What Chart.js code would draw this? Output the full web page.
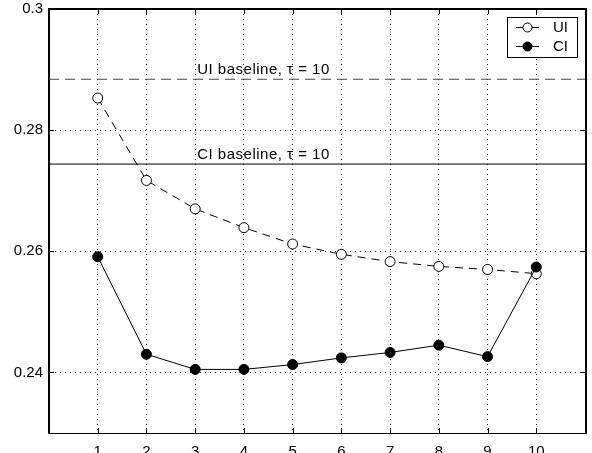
<!DOCTYPE html>
<html>
<head>
<meta charset="utf-8">
<script src="https://cdn.jsdelivr.net/npm/chart.js@4/dist/chart.umd.min.js"></script>
<style>
  html, body { margin: 0; padding: 0; background: #fff; }
  #wrap { width: 592px; height: 453px; position: relative; }
</style>
</head>
<body>
<div id="wrap"><canvas id="chart"></canvas></div>
<script>
// data
const xValues = [1, 2, 3, 4, 5, 6, 7, 8, 9, 10];
const uiValues = [0.2853, 0.2717, 0.2670, 0.2639, 0.2612, 0.2595, 0.2583, 0.2575, 0.2570, 0.2563];
const ciValues = [0.2591, 0.2430, 0.2405, 0.2405, 0.2413, 0.2424, 0.2433, 0.2445, 0.2426, 0.2574];
const uiBaseline = 0.2884;
const ciBaseline = 0.2744;
const baselineSpan = [0, 11];
const baselineLabels = ['UI baseline, τ = 10', 'CI baseline, τ = 10'];
const baselineLabelX = 3;
const xTicks = [1, 2, 3, 4, 5, 6, 7, 8, 9, 10];
const yTicks = [0.24, 0.26, 0.28, 0.3];

const FONT = '"Liberation Sans", Arial, Helvetica, sans-serif';

function pts(xs, ys) { return xs.map((x, i) => ({ x: x, y: ys[i] })); }

// box round the plot + short tick marks pointing inward
function drawFrame(chart) {
    const { ctx, chartArea: a, scales } = chart;
    const len = 5;
    const L = Math.round(a.left), R = Math.round(a.right);
    const T = Math.round(a.top), B = Math.round(a.bottom);
    ctx.save();
    ctx.globalAlpha = 1;
    ctx.globalCompositeOperation = 'source-over';
    ctx.fillStyle = 'rgb(0,0,0)';
    ctx.fillRect(L - 1, T - 1, R - L + 2, 2);
    ctx.fillRect(L - 1, B, R - L + 2, 1);
    ctx.fillRect(L - 1, T - 1, 1, B - T + 2);
    ctx.fillRect(R, T - 1, 2, B - T + 2);
    scales.x.ticks.forEach(tk => {
        const px = Math.round(scales.x.getPixelForValue(tk.value));
        ctx.fillRect(px, B - len, 1, len);
        ctx.fillRect(px, T, 1, len);
    });
    scales.y.ticks.forEach(tk => {
        const py = Math.round(scales.y.getPixelForValue(tk.value));
        ctx.fillRect(L, py, len, 1);
        ctx.fillRect(R - len + 1, py, len, 1);
    });
    ctx.restore();
}

function drawBaselineText(chart) {
    const { ctx, scales } = chart;
    ctx.save();
    ctx.fillStyle = '#000';
    ctx.font = '15px ' + FONT;
    if ('letterSpacing' in ctx) ctx.letterSpacing = '0.5px';
    ctx.textAlign = 'left';
    ctx.textBaseline = 'alphabetic';
    const x = scales.x.getPixelForValue(baselineLabelX) + 2;
    [uiBaseline, ciBaseline].forEach((v, i) => {
        ctx.fillText(baselineLabels[i], x, scales.y.getPixelForValue(v) - 5);
    });
    ctx.restore();
}

function drawLegend(chart) {
    const { ctx, chartArea: a } = chart;
    const sets = chart.data.datasets.filter(d => d.inLegend);
    const w = 70, rowH = 19, h = 40;
    const x0 = Math.round(a.right - 8 - w);
    const y0 = Math.round(a.top + 8);
    ctx.save();
    ctx.fillStyle = '#fff';
    ctx.fillRect(x0, y0, w, h);
    ctx.fillStyle = '#000';
    ctx.fillRect(x0, y0, w + 1, 1);
    ctx.fillRect(x0, y0 + h, w + 1, 1);
    ctx.fillRect(x0, y0, 1, h + 1);
    ctx.fillRect(x0 + w, y0, 1, h + 1);
    ctx.font = '15px ' + FONT;
    ctx.textBaseline = 'middle';
    ctx.strokeStyle = '#000';
    ctx.lineWidth = 1;
    sets.forEach((d, i) => {
        const cy = Math.round(y0 + 10 + i * rowH);
        ctx.fillStyle = '#000';
        ctx.fillRect(x0 + 9, cy, 23, 1);
        ctx.beginPath();
        ctx.arc(x0 + 20.5, cy + 0.5, 4.5, 0, Math.PI * 2);
        ctx.fillStyle = d.pointBackgroundColor;
        ctx.fill();
        ctx.stroke();
        ctx.fillStyle = '#000';
        ctx.fillText(d.label, x0 + 46, cy + 1);
    });
    ctx.restore();
}

const textPlugin = { id: 'baselineText', afterDatasetsDraw(chart) { drawBaselineText(chart); } };
const framePlugin = { id: 'plotFrame', afterDraw(chart) { drawFrame(chart); } };
const legendPlugin = { id: 'legendBox', afterDraw(chart) { drawLegend(chart); } };

function noPad(s) { s.paddingTop = 0; s.paddingBottom = 0; s.paddingLeft = 0; s.paddingRight = 0; }

const gridOpts = { color: '#222', lineWidth: 1, drawTicks: false };
const frameBorder = { display: true, color: '#000', width: 1, dash: [1, 4] };

new Chart(document.getElementById('chart'), {
    type: 'scatter',
    data: {
        datasets: [
            {
                label: 'UI', inLegend: true, order: 1,
                data: pts(xValues, uiValues), showLine: true,
                borderColor: '#000', borderWidth: 1, borderDash: [8, 6],
                pointRadius: 5, pointBackgroundColor: '#fff', pointBorderColor: '#000', pointBorderWidth: 1
            },
            {
                label: 'CI', inLegend: true, order: 0,
                data: pts(xValues, ciValues), showLine: true,
                borderColor: '#000', borderWidth: 1,
                pointRadius: 5, pointBackgroundColor: '#000', pointBorderColor: '#000', pointBorderWidth: 1
            },
            {
                label: 'UI baseline', order: 2,
                data: pts(baselineSpan, [uiBaseline, uiBaseline]), showLine: true,
                borderColor: '#444', borderWidth: 1.2, borderDash: [10, 6], pointRadius: 0
            },
            {
                label: 'CI baseline', order: 3,
                data: pts(baselineSpan, [ciBaseline, ciBaseline]), showLine: true,
                borderColor: '#000', borderWidth: 1, pointRadius: 0
            }
        ]
    },
    options: {
        responsive: true,
        maintainAspectRatio: false,
        animation: false,
        layout: { padding: { top: 9, right: 7, left: 0, bottom: 0 } },
        plugins: { legend: { display: false }, tooltip: { enabled: false } },
        scales: {
            x: {
                type: 'linear', min: 0, max: 11,
                afterBuildTicks: s => { s.ticks = xTicks.map(v => ({ value: v })); },
                afterFit: s => { s.height = 20; noPad(s); },
                grid: gridOpts,
                border: frameBorder,
                ticks: { color: '#000', padding: 10, maxRotation: 0, font: { family: FONT, size: 15 } }
            },
            y: {
                min: 0.23, max: 0.3,
                afterBuildTicks: s => { s.ticks = yTicks.map(v => ({ value: v })); },
                afterFit: s => { s.width = 49; noPad(s); },
                grid: gridOpts,
                border: frameBorder,
                ticks: {
                    color: '#000', padding: 6, font: { family: FONT, size: 15 },
                    callback: v => String(+Number(v).toFixed(2))
                }
            }
        }
    },
    plugins: [textPlugin, framePlugin, legendPlugin]
});
</script>
</body>
</html>
